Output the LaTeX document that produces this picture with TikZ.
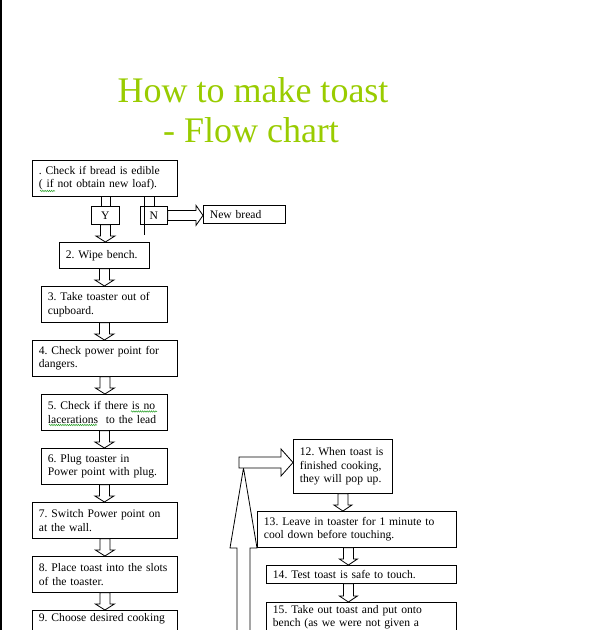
\documentclass[tikz,border=0pt]{standalone}
\usepackage{fontspec}
\setmainfont{Liberation Serif}
\usetikzlibrary{calc,decorations.pathmorphing}
\definecolor{titlegreen}{RGB}{153,204,0}
\definecolor{spellgreen}{RGB}{40,160,40}

\begin{document}
\begin{tikzpicture}[x=1bp, y=-1bp, line width=0.8bp,
  stepbox/.style={draw, anchor=north west, align=left, inner xsep=6.5bp, inner ysep=3bp, font=\fontsize{11.6bp}{13.5bp}\selectfont\frenchspacing},
  choicebox/.style={draw, anchor=north west, inner sep=0pt, minimum height=18bp, font=\fontsize{11.6bp}{13.5bp}\selectfont},
  title/.style={anchor=base, text=titlegreen, font=\fontsize{36bp}{40bp}\selectfont},
  spellcheck/.style={spellgreen, line width=0.5bp, decorate, decoration={snake, amplitude=0.7bp, segment length=2.2bp}},
  blockdown/.style n args={3}{draw, fill=white, to path={let \p1=(\tikztostart), \p2=(\tikztotarget) in (\x1-#1,\y1) -- (\x1-#1,\y2+#3) -- (\x1-#2,\y2+#3) -- (\x1,\y2) -- (\x1+#2,\y2+#3) -- (\x1+#1,\y2+#3) -- (\x1+#1,\y1) -- cycle}},
  blockup/.style n args={3}{draw, fill=white, to path={let \p1=(\tikztostart), \p2=(\tikztotarget) in (\x1-#1,\y1) -- (\x1-#1,\y2-#3) -- (\x1-#2,\y2-#3) -- (\x1,\y2) -- (\x1+#2,\y2-#3) -- (\x1+#1,\y2-#3) -- (\x1+#1,\y1) -- cycle}},
  blockright/.style n args={3}{draw, fill=white, to path={let \p1=(\tikztostart), \p2=(\tikztotarget) in (\x1,\y1+#1) -- (\x2-#3,\y1+#1) -- (\x2-#3,\y1+#2) -- (\x2,\y1) -- (\x2-#3,\y1-#2) -- (\x2-#3,\y1-#1) -- (\x1,\y1-#1) -- cycle}}]
\clip (0,0) rectangle (596,630);
\fill[white] (0,0) rectangle (596,630);
\draw[line width=1.2bp] (1,0) -- (1,630);

\node[title] (t1) at (253,103) {How to make toast};
\node[title] (t2) at (251,143) {- Flow chart};

\node[stepbox, text width=132bp, minimum height=36bp] (b1) at (32,160) {. Check if bread is edible\\( if not obtain new loaf).};
\node[choicebox, minimum width=28bp] (Y) at (91,206) {Y};
\node[choicebox, minimum width=27bp] (N) at (140,206) {N};
\node[stepbox, text width=69bp, minimum height=18bp] (nb) at (203,205) {New bread};
\node[stepbox, text width=77bp, minimum height=26bp] (b2) at (59,242) {2. Wipe bench.};
\node[stepbox, text width=113bp, minimum height=36bp] (b3) at (41,286) {3. Take toaster out of\\cupboard.};
\node[stepbox, text width=132bp, minimum height=36bp] (b4) at (32,340) {4. Check power point for\\dangers.};
\node[stepbox, text width=113bp, minimum height=36bp] (b5) at (41,394) {5. Check if there is no\\lacerations\ \ to the lead};
\node[stepbox, text width=113bp, minimum height=36bp] (b6) at (41,448) {6. Plug toaster in\\Power point with plug.};
\node[stepbox, text width=132bp, minimum height=36bp] (b7) at (32,502) {7. Switch Power point on\\at the wall.};
\node[stepbox, text width=132bp, minimum height=36bp] (b8) at (32,556) {8. Place toast into the slots\\of the toaster.};
\node[stepbox, text width=132bp, text depth=40bp] (b9) at (32,610) {9. Choose desired cooking};

\node[stepbox, text width=86bp, minimum height=54bp] (b12) at (293,439) {12. When toast is\\finished cooking,\\they will pop up.};
\node[stepbox, text width=186bp, minimum height=36bp] (b13) at (257,511) {13. Leave in toaster for 1 minute to\\cool down before touching.};
\node[stepbox, text width=177bp, minimum height=18bp] (b14) at (266,565) {14. Test toast is safe to touch.};
\node[stepbox, text width=177bp, text depth=40bp] (b15) at (266,602) {15. Take out toast and put onto\\bench (as we were not given a};

\draw[spellcheck] (40,191) -- (55,191);
\draw[spellcheck] (131,411.5) -- (157,411.5);
\draw[spellcheck] (49,425) -- (97,425);

\coordinate (nstub) at (144.5,235);
\coordinate (loopbottom) at (243.5,660);
\coordinate (looptip) at (243.5,468);
\coordinate (loopcorner) at (239,462.5);

\draw ([xshift=-4.5bp]Y.north) -- ([xshift=-4.5bp]Y.north |- b1.south);
\draw ([xshift=4.5bp]Y.north) -- ([xshift=4.5bp]Y.north |- b1.south);
\draw ([xshift=0.5bp]N.north) -- ([xshift=0.5bp]N.north |- b1.south);
\draw (nstub |- b1.south) -- (nstub);
\draw[blockright={5bp}{10bp}{7bp}] (N.east) to (N.east -| nb.west);

\draw[blockdown={5bp}{9.5bp}{6bp}] (Y.south) to (Y.south |- b2.north);
\draw[blockdown={5bp}{9.5bp}{6bp}] (b2.south) to (b2.south |- b3.north);
\draw[blockdown={5bp}{9.5bp}{6bp}] (b3.south) to (b3.south |- b4.north);
\draw[blockdown={5bp}{9.5bp}{6bp}] (b4.south) to (b4.south |- b5.north);
\draw[blockdown={5bp}{9.5bp}{6bp}] (b5.south) to (b5.south |- b6.north);
\draw[blockdown={5bp}{9.5bp}{6bp}] (b6.south) to (b6.south |- b7.north);
\draw[blockdown={5bp}{9.5bp}{6bp}] (b7.south) to (b7.south |- b8.north);
\draw[blockdown={5bp}{9.5bp}{6bp}] (b8.south) to (b8.south |- b9.north);

\draw[blockdown={5bp}{9bp}{6bp}] (b12.south) to (b12.south |- b13.north);
\draw[blockdown={5bp}{9bp}{6bp}] ([xshift=-8.5bp]b13.south) to ([xshift=-8.5bp]b13.south |- b14.north);
\draw[blockdown={5bp}{9bp}{6bp}] ([xshift=-13bp]b14.south) to ([xshift=-13bp]b14.south |- b15.north);

\draw[blockup={6.5bp}{13.5bp}{80bp}] (loopbottom) to (looptip);
\draw[blockright={5.5bp}{13.5bp}{12bp}] (loopcorner) to (loopcorner -| b12.west);
\end{tikzpicture}
\end{document}
